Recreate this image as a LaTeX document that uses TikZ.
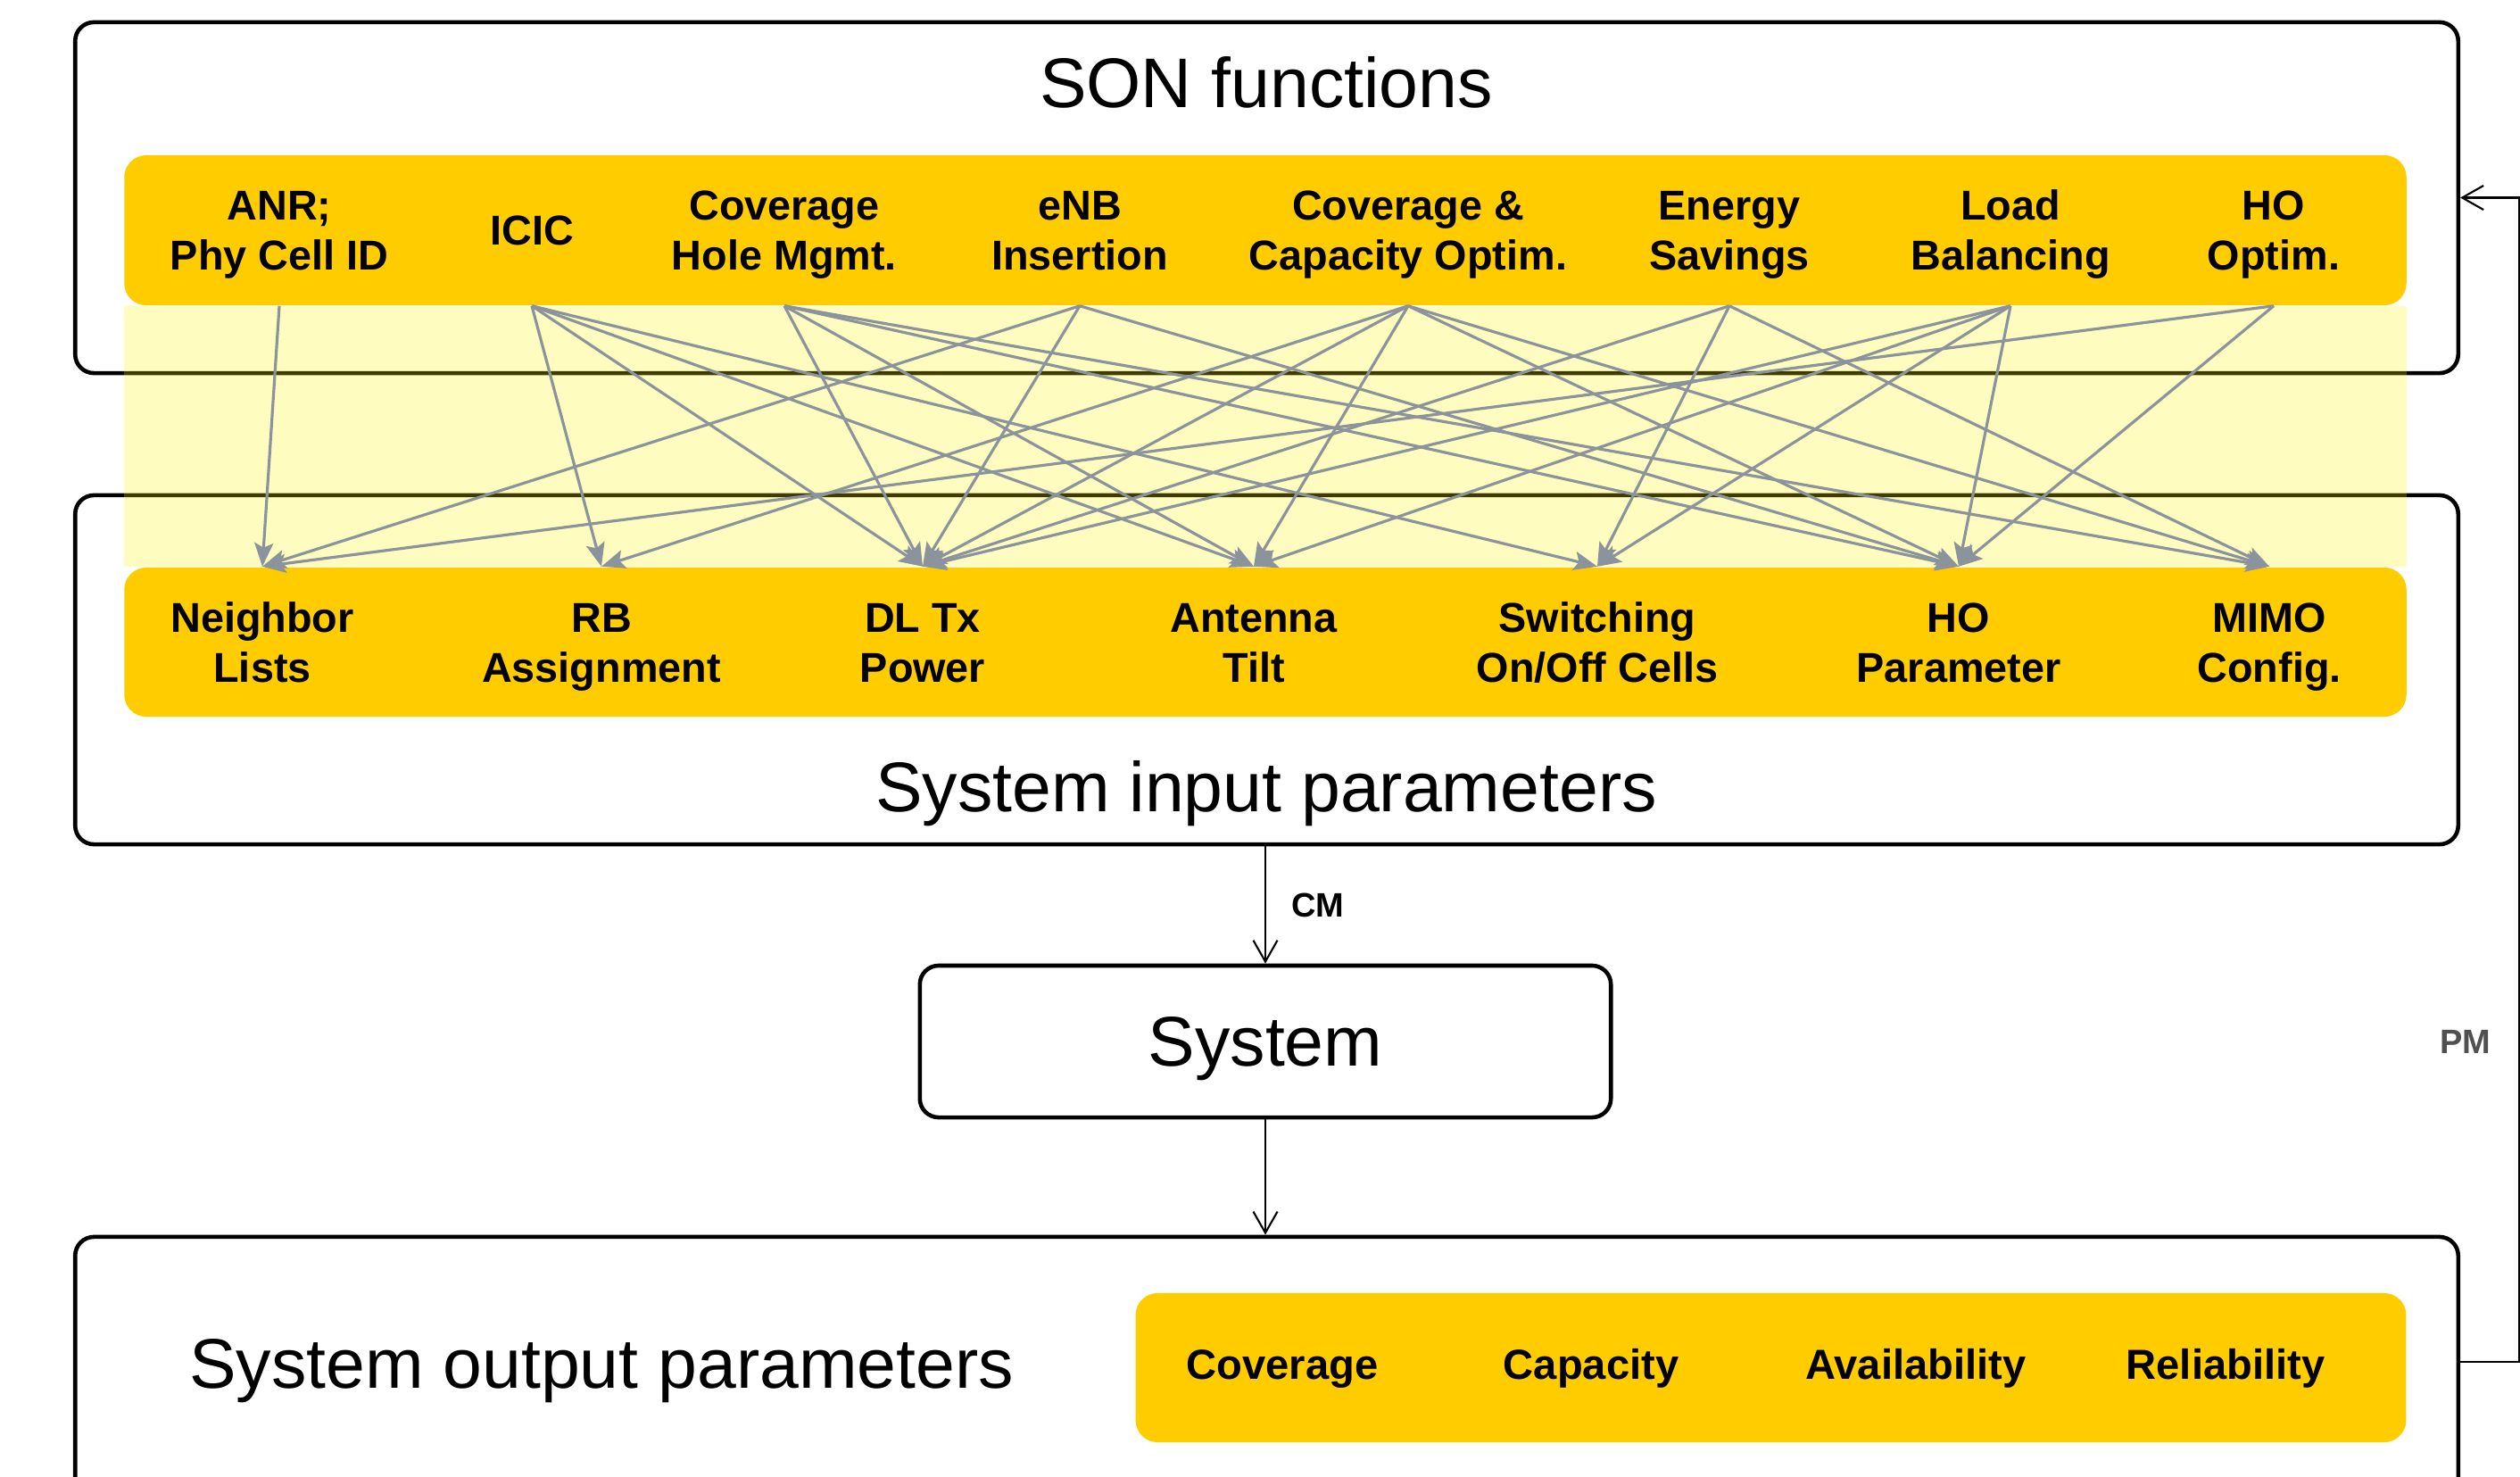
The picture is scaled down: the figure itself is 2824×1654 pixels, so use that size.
\documentclass[tikz,border=0pt]{standalone}
\usepackage{fontspec}
\setmainfont{Liberation Sans}
\usetikzlibrary{arrows.meta}
\definecolor{gold}{RGB}{255,204,0}
\definecolor{conngray}{RGB}{139,147,156}
\definecolor{pmgray}{RGB}{80,80,80}
\begin{document}
\begin{tikzpicture}[x=0.01cm,y=-0.01cm,
  frame/.style={draw=black, line width=1.3pt, rounded corners=6pt, inner sep=0pt, minimum width=26.69cm},
  band/.style={fill=gold, rounded corners=7pt, inner sep=0pt},
  fn/.style={inner sep=0pt, minimum height=1.68cm, align=center, text height=25.5pt, text depth=0pt, font=\fontsize{13.3}{16}\selectfont\bfseries},
  fnone/.style={fn, text height=9.5pt, text depth=0pt},
  outl/.style={inner sep=0pt, anchor=base, font=\fontsize{13.4}{16}\selectfont\bfseries},
  bigtxt/.style={inner sep=0pt, anchor=base, font=\fontsize{22.4}{26}\selectfont},
  smalllbl/.style={inner sep=0pt, anchor=base, font=\fontsize{10.8}{13}\selectfont\bfseries},
  conn/.style={draw=conngray, line width=0.9pt, -{Stealth[length=7.5pt,width=6pt,inset=1.5pt]}},
  flow/.style={draw=black, line width=0.6pt, -{Straight Barb[length=6.8pt,width=7.7pt]}},
]
\useasboundingbox (0,0) rectangle (2824,1654);
\clip (0,0) rectangle (2824,1654);

% outer frames
\node[frame, minimum height=3.93cm] (sonbox) at (1419.5,221.5) {};
\node[frame, minimum height=3.91cm] (inbox) at (1419.5,750.5) {};
\node[frame, minimum width=7.74cm, minimum height=1.70cm, text depth=0pt, font=\fontsize{22.4}{26}\selectfont] (sys) at (1418,1167) {System};
\node[frame, minimum height=3.4cm] (outbox) at (1419.5,1556) {};

% gold bands
\node[band, minimum width=25.56cm, minimum height=1.68cm] (fnband) at (1418,258) {};
\node[band, minimum width=25.56cm, minimum height=1.67cm] (parband) at (1418,719.5) {};
\node[band, minimum width=14.23cm, minimum height=1.67cm] (outband) at (1984.5,1532.5) {};

% pale yellow overlay between bands
\fill[yellow, opacity=0.25] (fnband.south west) rectangle (parband.north east);

% titles
\node[bigtxt] (sontitle) at (1419,120) {SON functions};
\node[bigtxt] (intitle) at (1419,909) {System input parameters};
\node[bigtxt] (outtitle) at (674,1555) {System output parameters};

% SON functions
\node[fn] (anr)  at (313,258)  {ANR;\\Phy Cell ID};
\node[fnone] (icic) at (596,258)  {ICIC};
\node[fn] (chm)  at (879,258)  {Coverage\\Hole Mgmt.};
\node[fn] (enb)  at (1210,258) {eNB\\Insertion};
\node[fn] (cco)  at (1578,258) {Coverage \&\\Capacity Optim.};
\node[fn] (es)   at (1938,258) {Energy\\Savings};
\node[fn] (lb)   at (2253,258) {Load\\Balancing};
\node[fn] (hoo)  at (2548,258) {HO\\Optim.};

% input parameters
\node[fn] (nl)   at (294,719.5)  {Neighbor\\Lists};
\node[fn] (rb)   at (674,719.5)  {RB\\Assignment};
\node[fn] (dl)   at (1034,719.5) {DL Tx\\Power};
\node[fn] (tilt) at (1405,719.5) {Antenna\\Tilt};
\node[fn] (sw)   at (1790,719.5) {Switching\\On/Off Cells};
\node[fn] (hp)   at (2195,719.5) {HO\\Parameter};
\node[fn] (mimo) at (2543,719.5) {MIMO\\Config.};

% output parameters
\node[outl] (ocov)  at (1437,1545) {Coverage};
\node[outl] (ocap)  at (1783,1545) {Capacity};
\node[outl] (oavl)  at (2147,1545) {Availability};
\node[outl] (orel)  at (2494,1545) {Reliability};

% mapping connectors
\foreach \s/\d in {anr/nl,
  icic/rb, icic/dl, icic/tilt, icic/sw,
  chm/dl, chm/tilt, chm/hp, chm/mimo,
  enb/nl, enb/dl, enb/hp,
  cco/rb, cco/dl, cco/tilt, cco/hp, cco/mimo,
  es/dl, es/sw, es/mimo,
  lb/dl, lb/tilt, lb/sw, lb/hp,
  hoo/nl, hoo/hp}
  \draw[conn] (\s.south) -- (\d.north);

% CM / system flow
\draw[flow] (inbox.south -| sys.north) -- (sys.north);
\node[smalllbl] (cm) at (1477,1027) {CM};
\draw[flow] (sys.south) -- (outbox.north -| sys.south);

% PM feedback
\coordinate (pmy) at (0,1526);
\draw[flow] (outbox.east |- pmy) -- ++(66,0) |- (sonbox.east);
\node[smalllbl, text=pmgray] (pm) at (2763,1180) {PM};
\end{tikzpicture}
\end{document}
